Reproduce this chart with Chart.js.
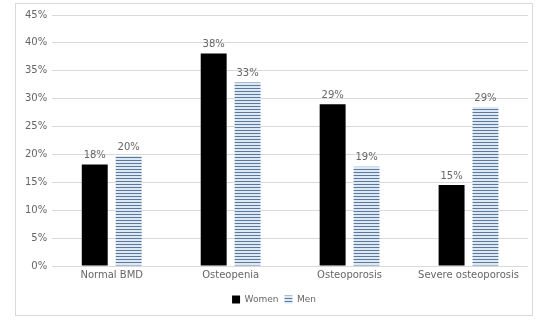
<!DOCTYPE html>
<html>
<head>
<meta charset="utf-8">
<script src="https://cdn.jsdelivr.net/npm/chart.js@4"></script>
<style>
    body { margin: 0; background: #fff; }
    #box {
        position: absolute; left: 15px; top: 3px;
        width: 516px; height: 311px;
        border: 1px solid #d9d9d9;
    }
</style>
</head>
<body>
<div id="box"><canvas id="myChart"></canvas></div>
<script>
var categories = ['Normal BMD', 'Osteopenia', 'Osteoporosis', 'Severe osteoporosis'];
var women = [18.2, 38.1, 29.0, 14.5];
var men = [19.7, 32.9, 17.8, 28.5];
var womenLabels = ['18%', '38%', '29%', '15%'];
var menLabels = ['20%', '33%', '19%', '29%'];
var yTicks = [0, 5, 10, 15, 20, 25, 30, 35, 40, 45];

var FONT = 'DejaVu Sans';

// striped fill for the men bars
function stripes() {
    var c = document.createElement('canvas');
    c.width = 3; c.height = 3;
    var g = c.getContext('2d');
    g.fillStyle = '#dbe8f6';
    g.fillRect(0, 0, 3, 3);
    g.fillStyle = '#5f7898';
    g.fillRect(0, 0, 3, 1);
    return g.createPattern(c, 'repeat');
}

var ctx = document.getElementById('myChart').getContext('2d');
var menFill = stripes();

var valueLabels = {
    id: 'valueLabels',
    afterDatasetsDraw: function (chart) {
        var g = chart.ctx;
        var texts = [womenLabels, menLabels];
        g.save();
        g.font = '10px "' + FONT + '"';
        g.fillStyle = '#666666';
        g.textAlign = 'center';
        g.textBaseline = 'bottom';
        chart.data.datasets.forEach(function (ds, i) {
            chart.getDatasetMeta(i).data.forEach(function (bar, j) {
                g.fillText(texts[i][j], bar.x, bar.y - 4);
            });
        });
        g.restore();
    }
};

var chart = new Chart(ctx, {
    type: 'bar',
    data: {
        labels: categories,
        datasets: [{
            label: 'Women',
            data: women,
            backgroundColor: '#000000',
            categoryPercentage: 0.57,
            barPercentage: 0.765
        }, {
            label: 'Men',
            data: men,
            backgroundColor: menFill,
            categoryPercentage: 0.57,
            barPercentage: 0.765
        }]
    },
    options: {
        responsive: true,
        maintainAspectRatio: false,
        animation: false,
        layout: { padding: { top: 11, right: 4, left: 4, bottom: 1 } },
        plugins: {
            tooltip: { enabled: false },
            legend: {
                position: 'bottom',
                labels: {
                    boxWidth: 8,
                    boxHeight: 8,
                    padding: 6,
                    color: '#666666',
                    font: { family: FONT, size: 9 }
                }
            }
        },
        scales: {
            x: {
                grid: { display: false, drawTicks: false },
                border: { display: false },
                afterFit: function (axis) { axis.height += 5; },
                ticks: {
                    color: '#666666',
                    padding: 3,
                    font: { family: FONT, size: 10 }
                }
            },
            y: {
                min: 0,
                max: 45,
                afterBuildTicks: function (axis) {
                    axis.ticks = yTicks.map(function (v) { return { value: v }; });
                },
                grid: { color: '#d9d9d9', drawTicks: false },
                border: { display: false },
                ticks: {
                    color: '#666666',
                    padding: 5,
                    font: { family: FONT, size: 10 },
                    callback: function (v) { return v + '%'; }
                }
            }
        }
    },
    plugins: [valueLabels]
});
</script>
</body>
</html>
